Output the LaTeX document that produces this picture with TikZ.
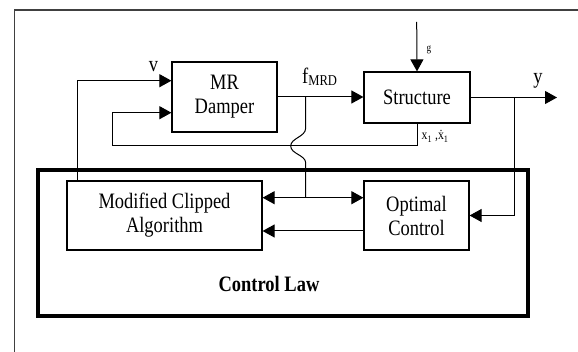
\documentclass[tikz,border=0pt]{standalone}
\usepackage{fontspec}
\setmainfont[FakeStretch=0.84]{Liberation Serif}
\usetikzlibrary{arrows.meta}
\begin{document}
\begin{tikzpicture}[x=1pt,y=-1pt,
  blk/.style={draw,line width=1.2pt,inner sep=0pt,align=center,font=\fontsize{22}{24}\selectfont},
  ln/.style={line width=1pt},
  arr/.style={ln,-{Triangle[length=12pt,width=13pt]}},
  lbl/.style={inner sep=0pt,font=\fontsize{22}{24}\selectfont}]
\useasboundingbox (0,0) rectangle (578,352);
% partial frame
\draw[line width=1.5pt,black!75] (14.5,352) -- (14.5,10) -- (578,10);
% control law box
\node[draw,line width=4pt,minimum width=490pt,minimum height=146pt,inner sep=0pt] (cl) at (283,243) {};
\node[lbl,font=\bfseries\fontsize{22}{24}\selectfont] (cltxt) at (269,284) {Control Law};
% blocks
\node[blk,minimum width=105pt,minimum height=70pt] (mr) at (224.5,97) {MR\\Damper};
\node[blk,minimum width=106pt,minimum height=51pt] (st) at (417,97.5) {Structure};
\node[blk,minimum width=195pt,minimum height=69pt] (mca) at (164.5,215.5) {Modified Clipped\\Algorithm};
\node[blk,minimum width=105pt,minimum height=69pt] (oc) at (416.5,215.5) {Optimal\\Control};
% coordinates
\coordinate (vx) at (77.7,0);
\coordinate (fb) at (112.7,146);
\coordinate (tapx) at (305.7,0);
\coordinate (gin) at (416.7,22);
\coordinate (yout) at (557,97.5);
\coordinate (ytapx) at (514.3,0);
% labels
\node[lbl] (vl) at (153.5,67) {v};
\node[lbl,anchor=base west] (fl) at (302,83.5) {f\raisebox{-2pt}{\fontsize{15}{15}\selectfont MRD}};
\node[lbl] (yl) at (538,81) {y};
\node[lbl,font=\fontsize{11}{11}\selectfont] (gl) at (429,50) {g};
\node[lbl,anchor=base west,font=\fontsize{14}{14}\selectfont] (xl) at (421.5,140) {x\textsubscript{1} ,\.x\textsubscript{1}};
% connectors
\draw[arr] (mca.north -| vx) |- ([yshift=16.3pt]mr.west);
\draw[arr] (st.south) |- (fb) |- ([yshift=-15.7pt]mr.west);
\draw[arr] (mr.east) -- (st.west |- mr.east);
\draw[ln] (mr.east -| tapx) -- (305.7,128)
  .. controls (305.7,137) and (290.7,138) .. (290.7,146)
  .. controls (290.7,154) and (305.7,155) .. (305.7,163)
  -- ([yshift=17.8pt]mca.east -| tapx);
\draw[arr,{Triangle[length=12pt,width=13pt]}-{Triangle[length=12pt,width=13pt]}] ([yshift=17.8pt]mca.east) -- ([yshift=17.8pt]oc.west);
\draw[arr] ([yshift=-15.5pt]oc.west) -- ([yshift=-15.5pt]mca.east);
\draw[arr] (gin) -- (st.north);
\draw[arr] (st.east) -- (yout);
\draw[arr] (st.east -| ytapx) |- (oc.east);
\end{tikzpicture}
\end{document}
